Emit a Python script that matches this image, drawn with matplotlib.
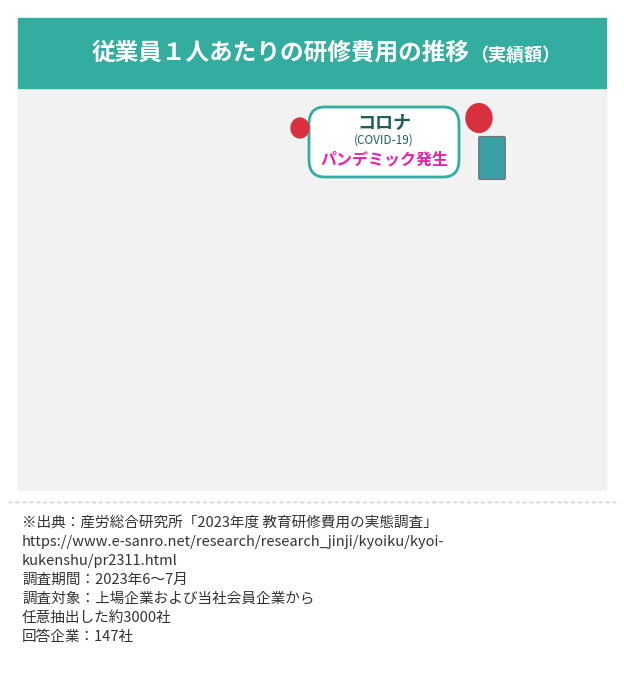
import matplotlib.pyplot as plt
from matplotlib.patches import FancyBboxPatch, Rectangle, Circle
import numpy as np

plt.rcParams['font.family'] = 'Noto Sans CJK JP'

years = ['2017年', '2018年', '2019年', '2020年', '2021年', '2022年']
costs = [38752, 34607, 35628, 24841, 29904, 32412]
colors = ['#bcbcbc', '#bcbcbc', '#bcbcbc', '#00b2b0', '#00c774', '#5aa5d6']
label_colors = ['#666666', '#666666', '#666666', '#00a8a8', '#00b46a', '#4a97d0']
yticks = [0, 10000, 20000, 30000, 40000, 50000]

fig = plt.figure(figsize=(6.24, 6.89), dpi=100)
W, H = 624, 689

def fx(x): return x / W
def fy(y): return 1 - y / H

# background panel
fig.patches.append(Rectangle((fx(18), fy(490)), fx(588), 402 / H, transform=fig.transFigure,
                             color='#f2f2f2', zorder=0))
# title banner
fig.patches.append(Rectangle((fx(18), fy(88)), fx(588), 70 / H, transform=fig.transFigure,
                             color='#32ad9f', zorder=1))
fig.text(fx(470), fy(53), '従業員１人あたりの研修費用の推移', color='white', fontsize=17,
         fontweight='bold', ha='right', va='center')
fig.text(fx(470), fy(55), '（実績額）', color='white', fontsize=13, fontweight='bold',
         ha='left', va='center')
# divider
fig.lines.append(plt.Line2D([fx(8), fx(616)], [fy(502), fy(502)], transform=fig.transFigure,
                            color='#cccccc', lw=1, linestyle=(0, (3, 2))))

ax = fig.add_axes([fx(90), fy(448), fx(508), 323 / H])
ax.set_facecolor('none')
x = np.arange(len(years))
ax.bar(x, costs, width=0.68, color=colors, zorder=3)
for i, v in enumerate(costs):
    ax.text(i, v + 1200, f'{v:,}', ha='center', va='bottom', fontsize=13, color='#555555')
ax.set_ylim(0, 50000)
ax.set_xlim(-0.84, 5.84)
ax.set_yticks(yticks)
ax.set_yticklabels([f'{t:,}' for t in yticks], fontsize=12, color='#444444')
ax.set_xticks(x)
ax.set_xticklabels(years, fontsize=11, fontweight='bold')
for lbl, c in zip(ax.get_xticklabels(), label_colors):
    lbl.set_color(c)
ax.tick_params(length=0, pad=8)
ax.grid(axis='y', color='#cfcfcf', linestyle=(0, (4, 3)), lw=0.8, zorder=0)
for s in ['top', 'right', 'left']:
    ax.spines[s].set_visible(False)
ax.spines['bottom'].set_color('#333333')
ax.set_axisbelow(True)

# dotted connector
ax.plot([3, 3], [27800, 40500], linestyle=(0, (0.1, 2.5)), lw=4, color='#32ad9f',
        solid_capstyle='round', dash_capstyle='round', zorder=4)

# callout box
box = FancyBboxPatch((fx(309), fy(177)), fx(150), 70 / H, boxstyle='round,pad=0,rounding_size=0.025',
                     transform=fig.transFigure, facecolor='white', edgecolor='#32ad9f', lw=2, zorder=5)
fig.patches.append(box)
fig.text(fx(384), fy(123), 'コロナ', ha='center', va='center', fontsize=13, fontweight='bold',
         color='#1f5f5a', zorder=6)
fig.text(fx(384), fy(140), '(COVID-19)', ha='center', va='center', fontsize=8.5,
         color='#1f5f5a', zorder=6)
fig.text(fx(384), fy(160), 'パンデミック発生', ha='center', va='center', fontsize=11.5,
         fontweight='bold', color='#ee1fa8', zorder=6)
# virus decorations
for cx, cy, r in [(300, 128, 9), (479, 118, 13)]:
    fig.patches.append(Circle((fx(cx), fy(cy)), r / W, transform=fig.transFigure,
                              color='#d9303e', zorder=6))
# vial
fig.patches.append(FancyBboxPatch((fx(480), fy(178)), fx(24), 40 / H, boxstyle='round,pad=0.002',
                                  transform=fig.transFigure, facecolor='#3a9ea6', edgecolor='#777777', zorder=6))

notes = ('※出典：産労総合研究所「2023年度 教育研修費用の実態調査」\n'
         'https://www.e-sanro.net/research/research_jinji/kyoiku/kyoi-\n'
         'kukenshu/pr2311.html\n'
         '調査期間：2023年6～7月\n'
         '調査対象：上場企業および当社会員企業から\n'
         '任意抽出した約3000社\n'
         '回答企業：147社')
fig.text(fx(22), fy(516), notes, ha='left', va='top', fontsize=10.5, color='#333333', linespacing=1.45)

fig.savefig('out.png', dpi=100, facecolor='white')
